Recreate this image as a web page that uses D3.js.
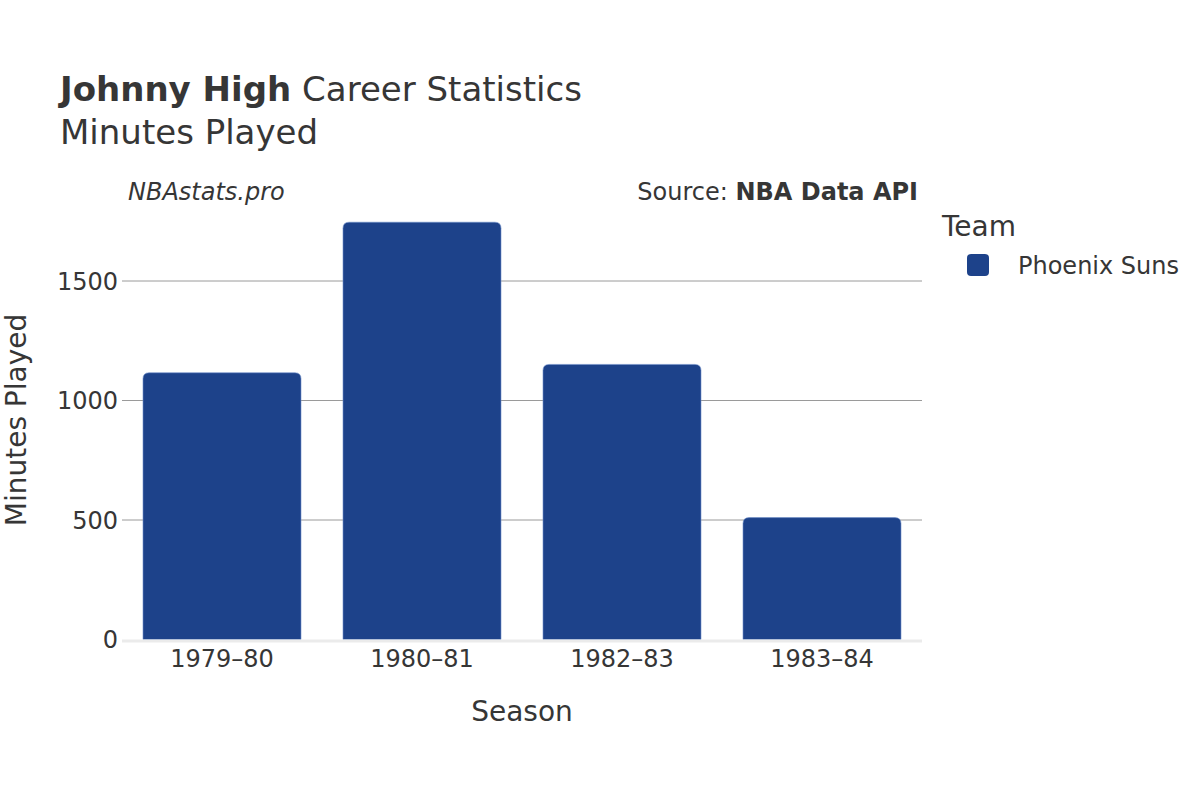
<!DOCTYPE html>
<html><head><meta charset="utf-8">
<script src="https://cdn.jsdelivr.net/npm/d3@7"></script>
<style>body{margin:0;background:#fff;} text{font-family:"DejaVu Sans",sans-serif;fill:#363636;}</style>
</head><body>
<svg id="c" width="1200" height="800"></svg>
<script>
const seasons = ["1979–80","1980–81","1982–83","1983–84"];
const minutes = [1116, 1746, 1151, 510];
const yTicks = [0, 500, 1000, 1500];
const team = "Phoenix Suns";
const teamColor = "#1d428a";

const svg = d3.select("#c");
const x = d3.scaleBand().domain(seasons).range([122, 922]).paddingInner(0.21).paddingOuter(0.105);
const y = d3.scaleLinear().domain([0, 1500]).range([639.5, 281]);

// gridlines
svg.append("g").selectAll("line").data(yTicks.filter(d=>d>0)).join("line")
  .attr("x1",122).attr("x2",922).attr("y1",d=>y(d)).attr("y2",d=>y(d))
  .attr("stroke","#9a9a9a").attr("stroke-width",1);

// bars with rounded top
const r = 6;
svg.append("g").selectAll("path").data(seasons).join("path")
  .attr("d",(d,i)=>{
    const x0 = x(d), w = x.bandwidth(), y0 = y(minutes[i]), yb = y(0);
    return `M${x0},${yb}V${y0+r}Q${x0},${y0} ${x0+r},${y0}H${x0+w-r}Q${x0+w},${y0} ${x0+w},${y0+r}V${yb}Z`;
  })
  .attr("fill",teamColor).attr("stroke","#6f8fc9").attr("stroke-width",0.6);

// baseline
svg.append("line").attr("x1",122).attr("x2",922).attr("y1",y(0)+1.5).attr("y2",y(0)+1.5)
  .attr("stroke","#ebebeb").attr("stroke-width",3);

// y tick labels
svg.append("g").selectAll("text").data(yTicks).join("text")
  .attr("x",118).attr("y",d=>y(d)+8.5).attr("text-anchor","end")
  .style("font-size","24px").text(d=>d);

// x tick labels
svg.append("g").selectAll("text").data(seasons).join("text")
  .attr("x",d=>x(d)+x.bandwidth()/2).attr("y",667).attr("text-anchor","middle")
  .style("font-size","24px").text(d=>d);

// axis titles
svg.append("text").attr("x",522).attr("y",721).attr("text-anchor","middle")
  .style("font-size","28px").text("Season");
svg.append("text").attr("transform","translate(26,420) rotate(-90)").attr("text-anchor","middle")
  .style("font-size","28px").text("Minutes Played");

// title
const t = svg.append("text").attr("x",60).attr("y",101).style("font-size","34px");
t.append("tspan").style("font-weight","bold").text("Johnny High");
t.append("tspan").text(" Career Statistics");
svg.append("text").attr("x",60).attr("y",144).style("font-size","34px").text("Minutes Played");

// credits
svg.append("text").attr("x",128).attr("y",200).style("font-size","24px").style("font-style","italic").text("NBAstats.pro");
const s = svg.append("text").attr("x",918).attr("y",200).attr("text-anchor","end").style("font-size","24px");
s.append("tspan").text("Source: ");
s.append("tspan").style("font-weight","bold").text("NBA Data API");

// legend
svg.append("text").attr("x",942).attr("y",236).style("font-size","28px").text("Team");
svg.append("rect").attr("x",967).attr("y",254).attr("width",22).attr("height",22).attr("rx",4)
  .attr("fill",teamColor);
svg.append("text").attr("x",1018).attr("y",274).style("font-size","24px").text(team);
</script>
</body></html>
